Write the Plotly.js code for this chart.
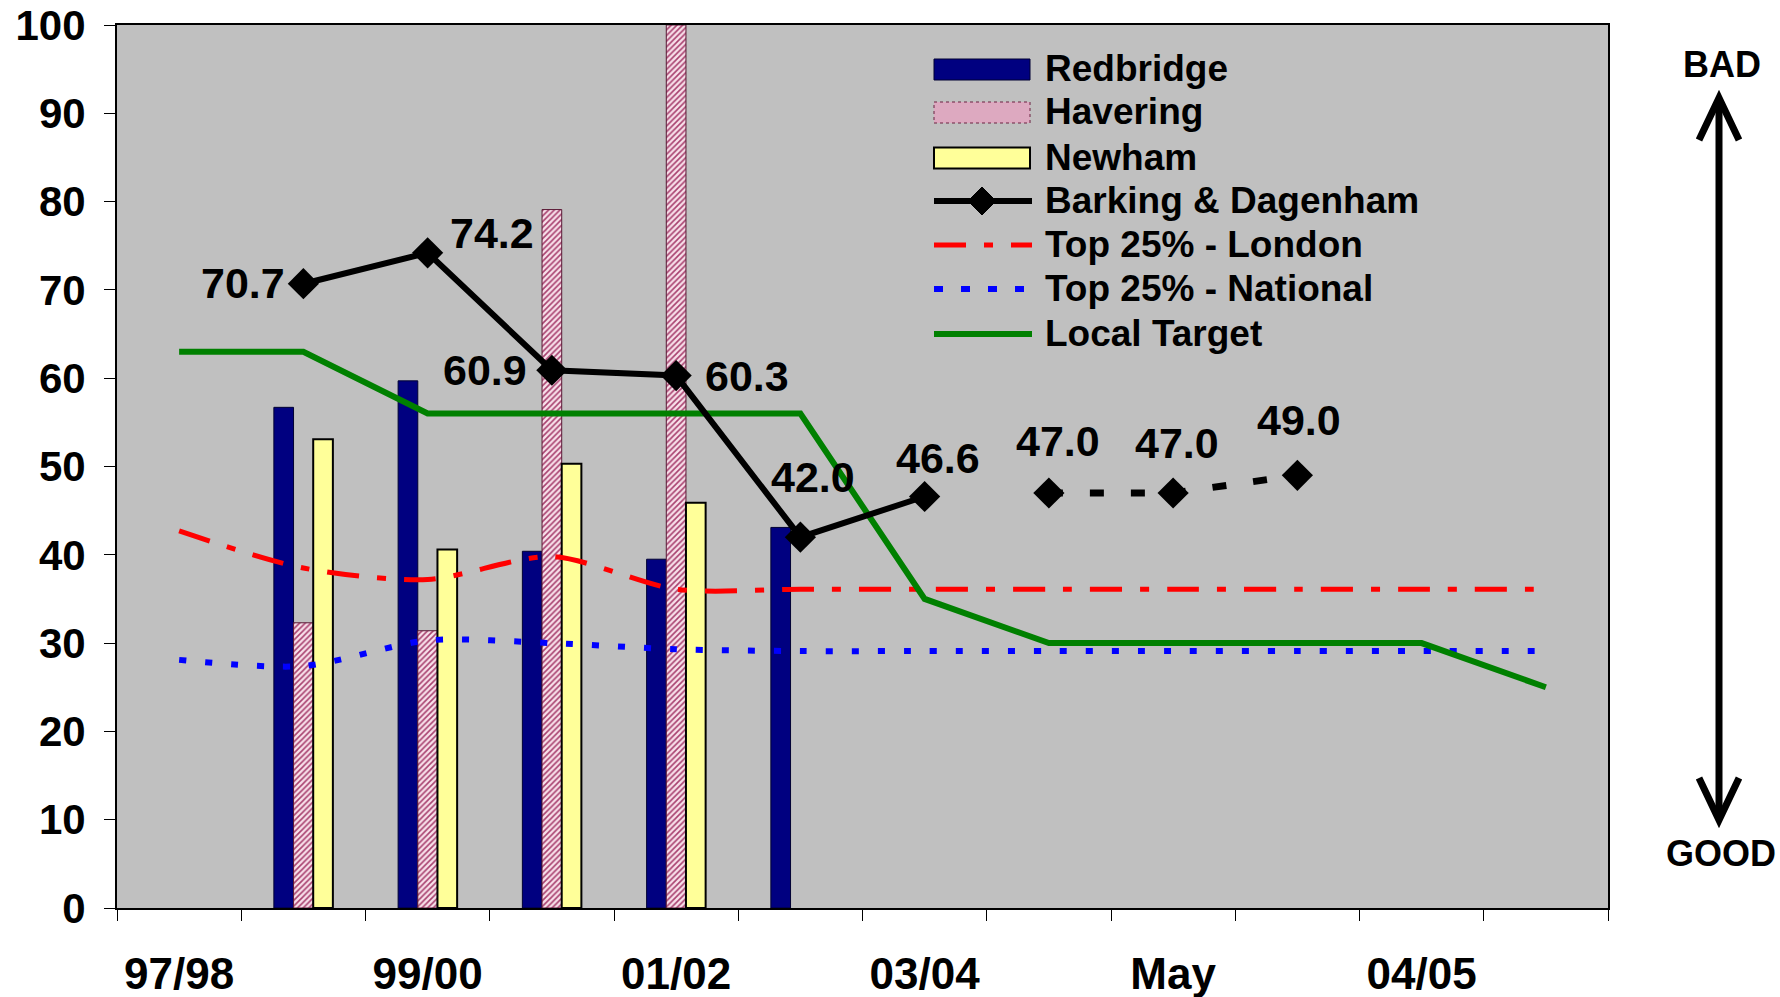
<!DOCTYPE html>
<html><head><meta charset="utf-8">
<script src="https://cdn.plot.ly/plotly-3.0.1.min.js"></script>
<style>html,body{margin:0;padding:0;background:#fff}#chart{width:1780px;height:997px}</style>
</head><body><div id="chart"></div>
<script>
// ---------- data ----------
const categories = ["97/98","98/99","99/00","00/01","01/02","02/03","03/04","Apr","May","Jun","04/05","05/06"];
const tickLabels = ["97/98","","99/00","","01/02","","03/04","","May","","04/05",""];
const redbridge = [null,56.7,59.7,40.4,39.5,43.1,null,null,null,null,null,null];
const havering  = [null,32.3,31.4,79.1,100,null,null,null,null,null,null,null];
const newham    = [null,53.1,40.6,50.3,45.9,null,null,null,null,null,null,null];
const barkingActual    = [null,70.7,74.2,60.9,60.3,42.0,46.6,null,null,null,null,null];
const barkingProjected = [null,null,null,null,null,null,null,47.0,47.0,49.0,null,null];
const top25London   = [42.7,38.5,37.2,39.8,36.1,36.1,36.1,36.1,36.1,36.1,36.1,36.1];
const top25National = [28.1,27.4,30.3,30.0,29.3,29.1,29.1,29.1,29.1,29.1,29.1,29.1];
const localTarget   = [63,63,56,56,56,56,35,30,30,30,30,25];
const seriesNames = ["Redbridge","Havering","Newham","Barking & Dagenham","Top 25% - London","Top 25% - National","Local Target"];

// ---------- layout helpers (pixels -> paper) ----------
const L = 117, R = 1608, T = 25, B = 908;
const px = x => (x - L) / (R - L);
const py = y => (B - y) / (B - T);
const FONT = "Arial, 'Liberation Sans', sans-serif";

const traces = [
  {type:"bar", name:seriesNames[0], x:categories, y:redbridge,
   marker:{color:"#000080", line:{color:"#000033", width:1}}},
  {type:"bar", name:seriesNames[1], x:categories, y:havering,
   marker:{color:"#F8E0EA", line:{color:"#5a1a36", width:1},
     pattern:{shape:"/", fgcolor:"#A8416F", bgcolor:"#F8E0EA", size:4, solidity:0.4}}},
  {type:"bar", name:seriesNames[2], x:categories, y:newham,
   marker:{color:"#FFFF99", line:{color:"#000000", width:2}}},
  {type:"scatter", mode:"lines", name:seriesNames[4], x:categories, y:top25London,
   line:{color:"#FF0000", width:5, dash:"32px,18px,9px,18px", shape:"spline", smoothing:0.8}},
  {type:"scatter", mode:"lines", name:seriesNames[5], x:categories, y:top25National,
   line:{color:"#0000FF", width:6, dash:"7px,19px", shape:"spline", smoothing:0.8}},
  {type:"scatter", mode:"lines", name:seriesNames[6], x:categories, y:localTarget,
   line:{color:"#008000", width:6}},
  {type:"scatter", mode:"lines+markers", name:seriesNames[3], x:categories, y:barkingActual,
   line:{color:"#000000", width:6}, marker:{symbol:"diamond", size:24, color:"#000000"}},
  {type:"scatter", mode:"lines+markers", name:seriesNames[3]+" (projected)", x:categories, y:barkingProjected,
   line:{color:"#000000", width:7, dash:"14px,27px"}, marker:{symbol:"diamond", size:24, color:"#000000"}}
];

// data labels for Barking & Dagenham (offsets in px relative to each marker)
const labelShiftX = [0,-60,64,-67,71,13,13,9,4,2,0,0];
const labelShiftY = [0,1,20,0,0,60,39,52,50,55,0,0];
const annotations = [];
[barkingActual, barkingProjected].forEach(arr => {
  arr.forEach((v, i) => {
    if (v === null) return;
    annotations.push({x:categories[i], y:v, xref:"x", yref:"y", text:v.toFixed(1), showarrow:false,
      xshift:labelShiftX[i], yshift:labelShiftY[i],
      font:{family:FONT, size:43, color:"#000", weight:700}});
  });
});

// custom legend
const shapes = [];
const legendY = [69.5, 112.5, 158, 201, 245, 289, 334];
const sx0 = 934, sx1 = 1030, tx = 1043;
const legendStyle = [
  {kind:"rect", fill:"#000080", line:"#000033", lw:1},
  {kind:"rect", fill:"#DDA9C0", line:"#6b2040", lw:1, dash:"dot"},
  {kind:"rect", fill:"#FFFF99", line:"#000000", lw:2},
  {kind:"line", color:"#000000", lw:6, marker:true},
  {kind:"line", color:"#FF0000", lw:5, dash:"32px,18px,9px,18px"},
  {kind:"line", color:"#0000FF", lw:6, dash:"9px,18px"},
  {kind:"line", color:"#008000", lw:6}
];
seriesNames.forEach((name, k) => {
  const st = legendStyle[k], yc = legendY[k];
  if (st.kind === "rect") {
    shapes.push({type:"rect", xref:"paper", yref:"paper", x0:px(sx0), x1:px(sx1), y0:py(yc-10.5), y1:py(yc+10.5),
      fillcolor:st.fill, line:{color:st.line, width:st.lw, dash:st.dash||"solid"}, layer:"above"});
  } else {
    shapes.push({type:"line", xref:"paper", yref:"paper", x0:px(sx0), x1:px(sx1+2), y0:py(yc), y1:py(yc),
      line:{color:st.color, width:st.lw, dash:st.dash||"solid"}, layer:"above"});
    if (st.marker) {
      const cx = (sx0+sx1)/2, r = 14;
      shapes.push({type:"path", xref:"paper", yref:"paper", layer:"above",
        path:`M${px(cx-r)},${py(yc)} L${px(cx)},${py(yc-r)} L${px(cx+r)},${py(yc)} L${px(cx)},${py(yc+r)} Z`,
        fillcolor:"#000", line:{color:"#000", width:1}});
    }
  }
  annotations.push({xref:"paper", yref:"paper", x:px(tx), y:py(yc-1), xanchor:"left", yanchor:"middle",
    text:name, showarrow:false, font:{family:FONT, size:37, color:"#000", weight:700}});
});

// BAD / GOOD arrow
const ax = 1719, topTip = 98, botTip = 820, wing = 20, wingH = 42;
shapes.push({type:"line", xref:"paper", yref:"paper", x0:px(ax), x1:px(ax), y0:py(topTip+3), y1:py(botTip-3),
  line:{color:"#000", width:7}});
shapes.push({type:"path", xref:"paper", yref:"paper",
  path:`M${px(ax-wing)},${py(topTip+wingH)} L${px(ax)},${py(topTip)} L${px(ax+wing)},${py(topTip+wingH)}`,
  line:{color:"#000", width:7}});
shapes.push({type:"path", xref:"paper", yref:"paper",
  path:`M${px(ax-wing)},${py(botTip-wingH)} L${px(ax)},${py(botTip)} L${px(ax+wing)},${py(botTip-wingH)}`,
  line:{color:"#000", width:7}});
annotations.push({xref:"paper", yref:"paper", x:px(1722), y:py(64), text:"BAD", showarrow:false,
  xanchor:"center", yanchor:"middle", font:{family:FONT, size:36, color:"#000", weight:700}});
annotations.push({xref:"paper", yref:"paper", x:px(1721), y:py(853), text:"GOOD", showarrow:false,
  xanchor:"center", yanchor:"middle", font:{family:FONT, size:36, color:"#000", weight:700}});

const layout = {
  width:1780, height:997,
  margin:{l:L, r:1780-R, t:T, b:997-B, pad:0},
  paper_bgcolor:"#FFFFFF", plot_bgcolor:"#C0C0C0",
  showlegend:false,
  barmode:"group", bargap:0.525, bargroupgap:0,
  font:{family:FONT, color:"#000"},
  xaxis:{type:"category", categoryorder:"array", categoryarray:categories, range:[-0.5, 11.5], autorange:false,
    tickmode:"array", tickvals:categories, ticktext:tickLabels, tickson:"boundaries", tickangle:0,
    ticks:"outside", ticklen:11, tickwidth:1, tickcolor:"#000",
    showline:true, linecolor:"#000", linewidth:2, mirror:true, showgrid:false, zeroline:false,
    tickfont:{family:FONT, size:44, color:"#000", weight:700}, ticklabelstandoff:26, ticklabeloverflow:"allow"},
  yaxis:{range:[0,100], autorange:false, tickmode:"linear", tick0:0, dtick:10,
    ticks:"outside", ticklen:11, tickwidth:1, tickcolor:"#000",
    showline:true, linecolor:"#000", linewidth:2, mirror:true, showgrid:false, zeroline:false,
    tickfont:{family:FONT, size:42, color:"#000", weight:700}, ticklabelstandoff:10, ticklabeloverflow:"allow"},
  shapes:shapes, annotations:annotations
};

Plotly.newPlot("chart", traces, layout, {displayModeBar:false, responsive:false});
</script></body></html>
